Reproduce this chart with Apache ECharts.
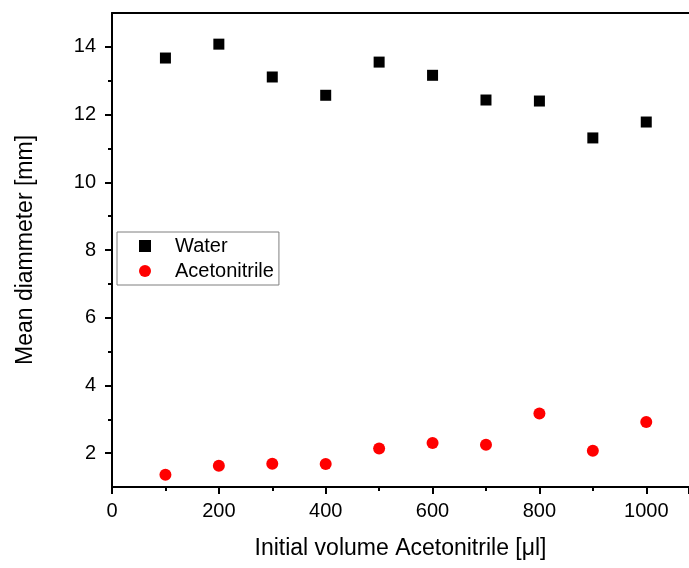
<!DOCTYPE html>
<html>
<head>
<meta charset="utf-8">
<script src="https://cdn.jsdelivr.net/npm/echarts@6/dist/echarts.min.js"></script>
<style>
html, body { margin: 0; padding: 0; background: #fff; }
#main { width: 689px; height: 568px; }
</style>
</head>
<body>
<div id="main"></div>
<script>
// data
var volumes = [100, 200, 300, 400, 500, 600, 700, 800, 900, 1000];
var water = [13.67, 14.08, 13.11, 12.57, 13.55, 13.16, 12.43, 12.40, 11.31, 11.78];
var acetonitrile = [1.36, 1.63, 1.69, 1.68, 2.14, 2.30, 2.25, 3.17, 2.07, 2.92];
var yMajor = [2, 4, 6, 8, 10, 12, 14];
var yMinor = [3, 5, 7, 9, 11, 13];

function pairs(xs, ys) {
    return xs.map(function (x, i) { return [x, ys[i]]; });
}

var chart = echarts.init(document.getElementById('main'));
var font = 'Liberation Sans, Arial, sans-serif';

var option = {
    backgroundColor: '#FFFFFF',
    animation: false,
    textStyle: { fontFamily: font },
    grid: { left: 112, right: 0, top: 13, bottom: 81 },
    legend: {
        orient: 'vertical',
        left: 117,
        top: 232,
        padding: [4, 5, 4, 22],
        itemGap: 5,
        itemWidth: 12,
        itemHeight: 12,
        borderColor: '#7f7f7f',
        borderWidth: 1,
        textStyle: { fontSize: 20, color: '#000', fontFamily: font, padding: [0, 0, 0, 19] },
        data: ['Water', 'Acetonitrile']
    },
    xAxis: [{
        type: 'value',
        min: 0,
        max: 1080,
        interval: 200,
        name: 'Initial volume Acetonitrile [\u03bcl]',
        nameLocation: 'middle',
        nameGap: 50,
        nameTextStyle: { fontSize: 23, color: '#000', fontFamily: font },
        axisLine: { lineStyle: { color: '#000', width: 2 } },
        axisTick: { inside: false, length: 7, lineStyle: { color: '#000', width: 2 } },
        minorTick: { show: true, splitNumber: 2, length: 4, lineStyle: { color: '#000', width: 2 } },
        axisLabel: {
            fontSize: 20, color: '#000', margin: 14, showMaxLabel: false, fontFamily: font,
            formatter: function (v) { return String(v); }
        },
        splitLine: { show: false }
    }, {
        type: 'value',
        position: 'top',
        min: 0,
        max: 1080,
        axisLine: { show: true, lineStyle: { color: '#000', width: 2 } },
        axisTick: { show: false },
        axisLabel: { show: false },
        splitLine: { show: false }
    }],
    yAxis: [{
        type: 'value',
        min: 1,
        max: 15,
        name: 'Mean diammeter [mm]',
        nameLocation: 'middle',
        nameGap: 75,
        nameTextStyle: { fontSize: 23, color: '#000', fontFamily: font },
        axisLine: { show: true, lineStyle: { color: '#000', width: 2 } },
        axisTick: { show: true, length: 7, customValues: yMajor, lineStyle: { color: '#000', width: 2 } },
        axisLabel: { fontSize: 20, color: '#000', margin: 16, customValues: yMajor, fontFamily: font },
        splitLine: { show: false }
    }, {
        type: 'value',
        min: 1,
        max: 15,
        position: 'left',
        axisLine: { show: false },
        axisTick: { show: true, length: 4, customValues: yMinor, lineStyle: { color: '#000', width: 2 } },
        axisLabel: { show: false, customValues: yMinor },
        splitLine: { show: false }
    }],
    series: [{
        name: 'Water',
        type: 'scatter',
        symbol: 'rect',
        symbolSize: 11,
        itemStyle: { color: '#000000', opacity: 1 },
        data: pairs(volumes, water)
    }, {
        name: 'Acetonitrile',
        type: 'scatter',
        symbol: 'circle',
        symbolSize: 12,
        itemStyle: { color: '#ff0000', opacity: 1 },
        data: pairs(volumes, acetonitrile)
    }]
};
chart.setOption(option);
</script>
</body>
</html>
